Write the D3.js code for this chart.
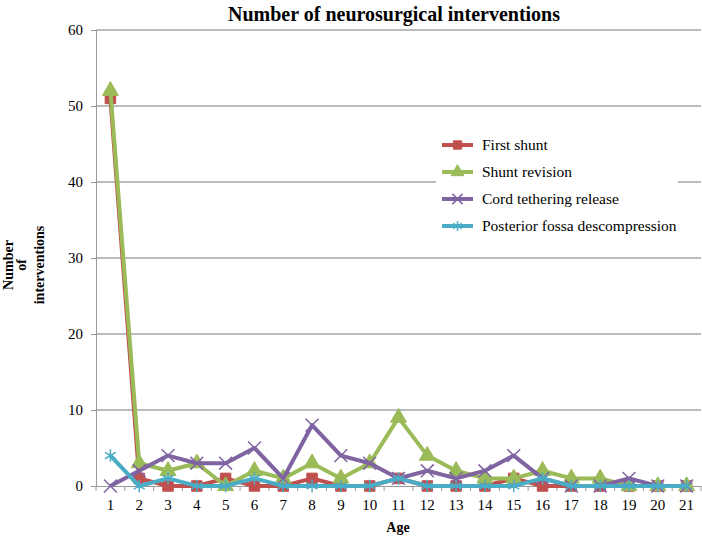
<!DOCTYPE html>
<html>
<head>
<meta charset="utf-8">
<script src="https://cdn.jsdelivr.net/npm/d3@7"></script>
<style>
  body { margin: 0; background: #fff; }
  text { font-family: "Liberation Serif", "Times New Roman", serif; }
</style>
</head>
<body>
<div id="chart"></div>
<script>
var ages = [1, 2, 3, 4, 5, 6, 7, 8, 9, 10, 11, 12, 13, 14, 15, 16, 17, 18, 19, 20, 21];
var firstShunt = [51, 1, 0, 0, 1, 0, 0, 1, 0, 0, 1, 0, 0, 0, 1, 0, 0, 0, 0, 0, 0];
var shuntRevision = [52, 3, 2, 3, 0, 2, 1, 3, 1, 3, 9, 4, 2, 1, 1, 2, 1, 1, 0, 0, 0];
var cordTethering = [0, 2, 4, 3, 3, 5, 1, 8, 4, 3, 1, 2, 1, 2, 4, 1, 0, 0, 1, 0, 0];
var posteriorFossa = [4, 0, 1, 0, 0, 1, 0, 0, 0, 0, 1, 0, 0, 0, 0, 1, 0, 0, 0, 0, 0];
var yTicks = [0, 10, 20, 30, 40, 50, 60];

var series = [
    { name: "First shunt", values: firstShunt, color: "#C0504D", symbol: d3.symbolSquare, size: 110, fill: true },
    { name: "Shunt revision", values: shuntRevision, color: "#9BBB59", symbol: d3.symbolTriangle, size: 110, fill: true },
    { name: "Cord tethering release", values: cordTethering, color: "#8064A2", symbol: d3.symbolX, size: 110, fill: false },
    { name: "Posterior fossa descompression", values: posteriorFossa, color: "#4BACC6", symbol: d3.symbolAsterisk, size: 110, fill: false }
];

var width = 702, height = 538;
var margin = { top: 30, right: 1, bottom: 52, left: 96 };

var svg = d3.select("#chart").append("svg")
    .attr("width", width)
    .attr("height", height);

var x = d3.scaleBand()
    .domain(ages)
    .range([margin.left, width - margin.right]);

var y = d3.scaleLinear()
    .domain([0, 60])
    .range([height - margin.bottom, margin.top]);

// gridlines
svg.append("g")
    .selectAll("line")
    .data(yTicks.slice(1))
    .enter()
    .append("line")
    .attr("x1", margin.left)
    .attr("x2", width - margin.right)
    .attr("y1", d => y(d))
    .attr("y2", d => y(d))
    .attr("stroke", "#a6a6a6")
    .attr("stroke-width", 1.3);

// y axis
var yAxis = svg.append("g")
    .attr("transform", "translate(" + margin.left + ",0)")
    .call(d3.axisLeft(y).tickValues(yTicks).tickSize(5).tickPadding(8));
yAxis.select(".domain").attr("stroke", "#999");
yAxis.selectAll(".tick line").attr("stroke", "#999");
yAxis.selectAll("text")
    .style("font-family", "Liberation Serif, serif")
    .style("font-size", "15px")
    .attr("fill", "#000");

// x axis
var xAxis = svg.append("g")
    .attr("transform", "translate(0," + y(0) + ")")
    .call(d3.axisBottom(x).tickSize(0).tickPadding(13));
xAxis.select(".domain").attr("stroke", "#999");
xAxis.selectAll("text")
    .style("font-family", "Liberation Serif, serif")
    .style("font-size", "15px")
    .attr("fill", "#000");
xAxis.selectAll(".sep")
    .data(ages.concat([22]))
    .enter()
    .append("line")
    .attr("class", "sep")
    .attr("x1", (d, i) => margin.left + i * x.step())
    .attr("x2", (d, i) => margin.left + i * x.step())
    .attr("y1", 0)
    .attr("y2", 5)
    .attr("stroke", "#999");

// lines
var line = d3.line()
    .x((d, i) => x(ages[i]) + x.bandwidth() / 2)
    .y(d => y(d));

series.forEach(function(s) {
    var g = svg.append("g");
    g.append("path")
        .datum(s.values)
        .attr("fill", "none")
        .attr("stroke", s.color)
        .attr("stroke-width", 4)
        .attr("stroke-linejoin", "round")
        .attr("d", line);
    g.selectAll("path.mark")
        .data(s.values)
        .enter()
        .append("path")
        .attr("class", "mark")
        .attr("transform", (d, i) => "translate(" + (x(ages[i]) + x.bandwidth() / 2) + "," + y(d) + ")")
        .attr("d", d3.symbol().type(s.symbol).size(s.size))
        .attr("fill", s.fill ? s.color : "none")
        .attr("stroke", s.color)
        .attr("stroke-width", s.fill ? 1 : 1.5);
});

// legend
var legend = svg.append("g").attr("transform", "translate(436,132)");
legend.append("rect")
    .attr("width", 242)
    .attr("height", 106)
    .attr("fill", "#fff");
series.forEach(function(s, i) {
    var row = legend.append("g").attr("transform", "translate(6," + (13 + i * 27) + ")");
    row.append("line")
        .attr("x1", 0).attr("x2", 31)
        .attr("stroke", s.color)
        .attr("stroke-width", 4);
    row.append("path")
        .attr("transform", "translate(15.5,0)")
        .attr("d", d3.symbol().type(s.symbol).size(70))
        .attr("fill", s.fill ? s.color : "none")
        .attr("stroke", s.color)
        .attr("stroke-width", s.fill ? 1 : 1.5);
    row.append("text")
        .attr("x", 40)
        .attr("y", 5)
        .style("font-size", "15.5px")
        .text(s.name);
});

// title
svg.append("text")
    .attr("x", 394)
    .attr("y", 21)
    .attr("text-anchor", "middle")
    .style("font-size", "20px")
    .style("font-weight", "bold")
    .text("Number of neurosurgical interventions");

svg.append("text")
    .attr("x", 398)
    .attr("y", 532)
    .attr("text-anchor", "middle")
    .style("font-size", "14px")
    .style("font-weight", "bold")
    .text("Age");

// y title, three rotated lines
var yTitle = ["Number", "of", "interventions"];
var yTitleX = [13, 26, 44];
yTitle.forEach(function(t, i) {
    svg.append("text")
        .attr("transform", "translate(" + yTitleX[i] + ",265) rotate(-90)")
        .attr("text-anchor", "middle")
        .style("font-size", "14px")
        .style("font-weight", "bold")
        .text(t);
});
</script>
</body>
</html>
